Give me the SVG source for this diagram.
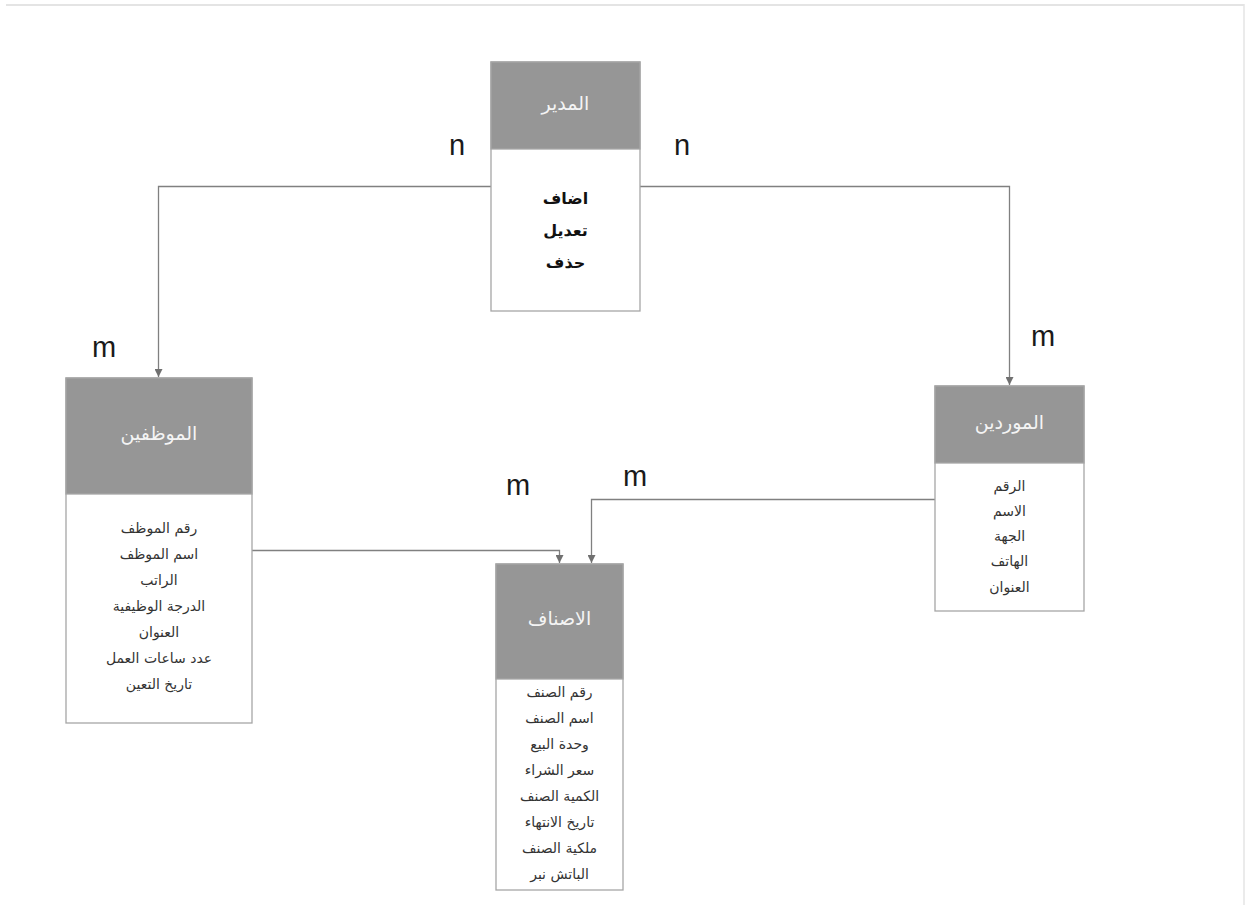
<svg xmlns="http://www.w3.org/2000/svg" width="1249" height="905" viewBox="0 0 1249 905">
<style>
.box{fill:#ffffff;stroke:#a6a6a6;stroke-width:1.3}
.hdr{fill:#969696;stroke:#a6a6a6;stroke-width:1.3}
.ttl{font-family:"DejaVu Sans","Noto Sans",sans-serif;font-size:19px;fill:#f4f4f4;text-anchor:middle}
.att{font-family:"DejaVu Sans","Noto Sans",sans-serif;font-size:14px;fill:#333333;text-anchor:middle}
.bld{font-family:"DejaVu Sans","Noto Sans",sans-serif;font-size:16px;font-weight:bold;fill:#111111;text-anchor:middle}
.lbl{font-family:"Liberation Sans",Arial,sans-serif;font-size:29px;fill:#1a1a1a}
.con{fill:none;stroke:#808080;stroke-width:1.3}
</style>
<defs>
<marker id="arr" viewBox="0 0 10 10" refX="10" refY="5" markerWidth="8" markerHeight="8" markerUnits="userSpaceOnUse" orient="auto">
<path d="M0,0 L10,5 L0,10 z" fill="#707070"/>
</marker>
</defs>
<rect width="1249" height="905" fill="#ffffff"/>
<line x1="6" y1="5" x2="1244" y2="5" stroke="#e4e4e4" stroke-width="2"/>
<line x1="1244" y1="4" x2="1244" y2="905" stroke="#e4e4e4" stroke-width="1.5"/>

<g id="connectors">
<polyline class="con" points="491,186.5 158.5,186.5 158.5,377" marker-end="url(#arr)"/>
<polyline class="con" points="640,186.5 1009.5,186.5 1009.5,385" marker-end="url(#arr)"/>
<polyline class="con" points="252,550.5 559.5,550.5 559.5,563" marker-end="url(#arr)"/>
<polyline class="con" points="935,499.5 591.5,499.5 591.5,563" marker-end="url(#arr)"/>
<text class="lbl" x="449" y="155">n</text>
<text class="lbl" x="674" y="155">n</text>
<text class="lbl" x="92" y="357">m</text>
<text class="lbl" x="1031" y="346">m</text>
<text class="lbl" x="506" y="495">m</text>
<text class="lbl" x="623" y="486">m</text>
</g>

<g id="manager">
<rect class="box" x="491" y="62" width="149" height="249"/>
<rect class="hdr" x="491" y="62" width="149" height="87"/>
<text class="ttl" x="565.5" y="110">المدير</text>
<text class="bld" x="565.5" y="204">اضاف</text>
<text class="bld" x="565.5" y="236">تعديل</text>
<text class="bld" x="565.5" y="268">حذف</text>
</g>

<g id="employees">
<rect class="box" x="66" y="378" width="186" height="345"/>
<rect class="hdr" x="66" y="378" width="186" height="116"/>
<text class="ttl" x="159" y="440">الموظفين</text>
<text class="att" x="159" y="533">رقم الموظف</text>
<text class="att" x="159" y="559">اسم الموظف</text>
<text class="att" x="159" y="585">الراتب</text>
<text class="att" x="159" y="611">الدرجة الوظيفية</text>
<text class="att" x="159" y="637">العنوان</text>
<text class="att" x="159" y="663">عدد ساعات العمل</text>
<text class="att" x="159" y="689">تاريخ التعين</text>
</g>

<g id="items">
<rect class="box" x="496" y="564" width="127" height="326"/>
<rect class="hdr" x="496" y="564" width="127" height="115"/>
<text class="ttl" x="559.5" y="625">الاصناف</text>
<text class="att" x="559.5" y="697">رقم الصنف</text>
<text class="att" x="559.5" y="723">اسم الصنف</text>
<text class="att" x="559.5" y="749">وحدة البيع</text>
<text class="att" x="559.5" y="775">سعر الشراء</text>
<text class="att" x="559.5" y="801">الكمية الصنف</text>
<text class="att" x="559.5" y="827">تاريخ الانتهاء</text>
<text class="att" x="559.5" y="853">ملكية الصنف</text>
<text class="att" x="559.5" y="879">الباتش نبر</text>
</g>

<g id="suppliers">
<rect class="box" x="935" y="386" width="149" height="225"/>
<rect class="hdr" x="935" y="386" width="149" height="77"/>
<text class="ttl" x="1009.5" y="429">الموردين</text>
<text class="att" x="1009.5" y="491">الرقم</text>
<text class="att" x="1009.5" y="516">الاسم</text>
<text class="att" x="1009.5" y="541">الجهة</text>
<text class="att" x="1009.5" y="566">الهاتف</text>
<text class="att" x="1009.5" y="592">العنوان</text>
</g>
</svg>
